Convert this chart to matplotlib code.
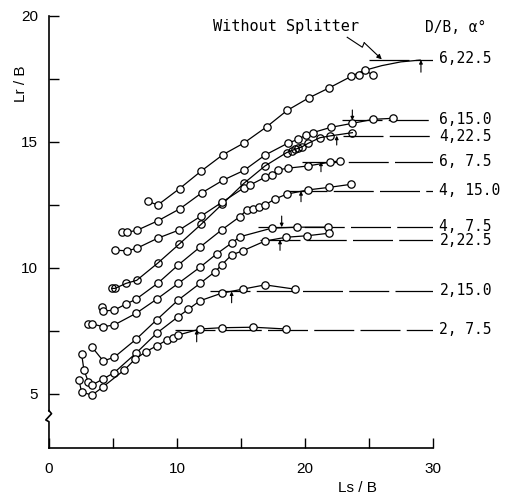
import matplotlib.pyplot as plt
from matplotlib.ticker import FixedLocator

plt.rcParams['font.family'] = 'Liberation Sans'

# ---- data (Ls/B, Lr/B) ----
x_6_225 = [7.7, 8.5, 10.2, 11.9, 13.6, 15.2, 17.0, 18.6, 20.3, 21.9, 23.6, 24.2, 24.7, 25.3]
y_6_225 = [12.65, 12.5, 13.15, 13.85, 14.5, 14.95, 15.6, 16.25, 16.75, 17.15, 17.6, 17.65, 17.85, 17.65]
# faired end of the top curve (no points)
x_6_225_tail = [23.6, 24.5, 26.0, 27.5, 29.0]
y_6_225_tail = [17.6, 17.82, 18.03, 18.18, 18.25]

x_6_150 = [5.68, 6.07, 6.85, 8.54, 10.23, 11.93, 13.62, 15.23, 16.88, 18.65, 19.48, 20.08, 20.6, 22.01, 23.7, 25.34, 26.9]
y_6_150 = [11.44, 11.42, 11.49, 11.88, 12.35, 12.98, 13.49, 13.87, 14.48, 14.95, 15.11, 15.28, 15.37, 15.58, 15.74, 15.9, 15.94]

x_4_225 = [4.9, 5.16, 6.02, 6.85, 8.49, 10.18, 11.88, 13.55, 15.23, 16.88, 18.57, 18.96, 19.22, 19.48, 19.77, 20.26, 21.17, 21.95, 23.7]
y_4_225 = [9.19, 9.19, 9.39, 9.51, 10.19, 10.95, 11.73, 12.54, 13.36, 14.05, 14.58, 14.66, 14.71, 14.75, 14.81, 14.95, 15.17, 15.24, 15.37]

x_6_75 = [5.16, 6.07, 6.85, 8.49, 10.18, 11.88, 13.55, 15.23, 15.7, 16.88, 17.4, 17.87, 18.65, 20.26, 21.95, 22.73]
y_6_75 = [10.71, 10.68, 10.78, 11.18, 11.51, 12.06, 12.62, 13.18, 13.29, 13.6, 13.69, 13.89, 13.96, 14.05, 14.2, 14.25]

x_4_150 = [4.12, 4.24, 5.1, 6.02, 6.8, 8.49, 10.1, 11.8, 13.49, 14.92, 15.45, 15.96, 16.41, 16.88, 17.66, 18.57, 20.26, 21.9, 23.59]
y_4_150 = [8.46, 8.29, 8.33, 8.57, 8.76, 9.39, 10.12, 10.83, 11.51, 12.04, 12.3, 12.33, 12.42, 12.5, 12.74, 12.93, 13.1, 13.2, 13.32]

x_4_75 = [3.07, 3.38, 4.24, 5.1, 6.8, 8.41, 10.1, 11.8, 13.1, 14.27, 14.92, 17.4, 19.35, 21.82]
y_4_75 = [7.78, 7.78, 7.67, 7.74, 8.2, 8.76, 9.39, 10.03, 10.56, 10.99, 11.24, 11.58, 11.62, 11.62]

x_2_225 = [3.38, 4.24, 5.1, 6.8, 8.41, 10.1, 11.8, 12.97, 13.49, 14.27, 15.13, 16.88, 18.52, 20.18, 21.88]
y_2_225 = [6.85, 6.31, 6.46, 7.17, 7.94, 8.73, 9.39, 9.85, 10.12, 10.52, 10.68, 11.07, 11.22, 11.28, 11.38]

x_2_150 = [2.55, 2.73, 3.07, 3.38, 4.24, 5.1, 6.8, 8.41, 10.1, 10.88, 11.8, 13.49, 15.13, 16.88, 19.22]
y_2_150 = [6.59, 5.95, 5.49, 5.36, 5.6, 5.85, 6.62, 7.41, 8.07, 8.36, 8.7, 9.0, 9.16, 9.33, 9.16]

x_2_75 = [2.34, 2.55, 3.38, 4.24, 5.88, 6.72, 7.58, 8.41, 9.2, 9.71, 10.1, 11.8, 13.49, 15.96, 18.49]
y_2_75 = [5.56, 5.07, 4.96, 5.29, 5.95, 6.38, 6.68, 6.91, 7.14, 7.21, 7.34, 7.58, 7.63, 7.65, 7.58]

labels = ['6,22.5', '6,15.0', '4,22.5', '6, 7.5', '4, 15.0', '4, 7.5', '2,22.5', '2,15.0', '2, 7.5']
# asymptote level, where its line starts, and the arrow marking the onset
asym_y = [18.25, 15.86, 15.25, 14.22, 13.05, 11.62, 11.12, 9.07, 7.54]
label_y = [18.3, 15.9, 15.2, 14.22, 13.07, 11.64, 11.1, 9.09, 7.54]
asym_x0 = [25.0, 22.9, 23.0, 19.8, 18.6, 16.35, 16.5, 12.6, 9.84]
arrow_x = [29.06, 23.7, 22.48, 21.25, 19.69, 18.18, 18.05, 14.27, 11.54]
arrow_from = [17.77, 16.27, 14.88, 13.82, 12.63, 12.06, 10.7, 8.62, 7.07]

xs = [x_6_225, x_6_150, x_4_225, x_6_75, x_4_150, x_4_75, x_2_225, x_2_150, x_2_75]
ys = [y_6_225, y_6_150, y_4_225, y_6_75, y_4_150, y_4_75, y_2_225, y_2_150, y_2_75]

fig = plt.figure(figsize=(5.07, 4.98), dpi=100)
ax = fig.add_axes([0.0966, 0.1004, 0.7574, 0.8675])
ax.set_xlim(0, 30)
ax.set_ylim(2.857, 20)

lw = 0.9
for i in range(len(xs)):
    face = 'none' if i == 2 else 'white'
    ax.plot(xs[i], ys[i], color='black', lw=lw, marker='o', ms=5.3,
            mfc=face, mec='black', mew=0.9, zorder=3)
    # asymptote line out to the label
    ax.plot([asym_x0[i], 30], [asym_y[i], asym_y[i]], color='black', lw=lw,
            dashes=(32, 5), zorder=2)
    ax.text(30.5, label_y[i], labels[i], family='DejaVu Sans Mono', fontsize=10.5,
            va='center', ha='left', clip_on=False)
    ax.annotate('', xy=(arrow_x[i], asym_y[i]), xytext=(arrow_x[i], arrow_from[i]),
                arrowprops=dict(arrowstyle='-|>', lw=0.8, color='black',
                                mutation_scale=5, shrinkA=0, shrinkB=0))

ax.plot(x_6_225_tail, y_6_225_tail, color='black', lw=lw, zorder=2)

# "Without Splitter" note with zigzag leader
ax.text(12.8, 19.6, 'Without Splitter', family='DejaVu Sans Mono', fontsize=11,
        va='center', ha='left')
ax.plot([23.3, 24.48, 24.63], [19.155, 18.76, 18.94], color='black', lw=0.8)
ax.annotate('', xy=(26.0, 18.28), xytext=(24.63, 18.94),
            arrowprops=dict(arrowstyle='-|>', lw=0.8, color='black',
                            mutation_scale=7, shrinkA=0, shrinkB=0))
ax.text(29.4, 19.55, 'D/B, α°', family='DejaVu Sans Mono', fontsize=10.5,
        va='center', ha='left', clip_on=False)

# axes: left spine drawn by hand with a break mark
for side in ['top', 'right', 'left']:
    ax.spines[side].set_visible(False)
ax.spines['bottom'].set_linewidth(1.2)
ax.plot([0, 0], [4.34, 20], color='black', lw=1.2, clip_on=False)
ax.plot([0, 0.2, -0.25, 0, 0], [4.34, 4.22, 3.97, 3.9, 2.857],
        color='black', lw=1.2, clip_on=False)

ax.set_yticks([5, 10, 15, 20])
ax.yaxis.set_minor_locator(FixedLocator([7.5, 12.5, 17.5]))
ax.set_xticks([0, 10, 20, 30])
ax.xaxis.set_minor_locator(FixedLocator([5, 15, 25]))
ax.tick_params(which='both', direction='in', length=7, width=1)
ax.tick_params(axis='y', labelsize=11, pad=8)
ax.tick_params(axis='x', labelsize=11, pad=10)

fig.text(357 / 507, 1 - 488 / 498, 'Ls / B', fontsize=11, ha='center', va='center')
fig.text(21 / 507, 1 - 84 / 498, 'Lr / B', fontsize=11, ha='center', va='center',
         rotation=90)

fig.savefig('out.png', dpi=100)
